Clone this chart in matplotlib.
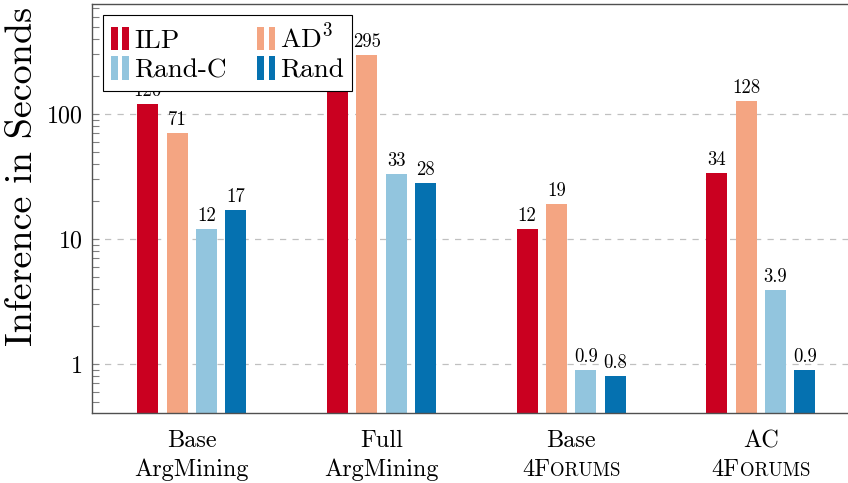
import numpy as np
import matplotlib
matplotlib.use("Agg")
import matplotlib.pyplot as plt
from matplotlib.patches import Rectangle
from matplotlib.legend_handler import HandlerBase
from matplotlib.ticker import LogLocator, NullFormatter, FixedLocator, FixedFormatter

plt.rcParams['font.family'] = 'cmr10'
plt.rcParams['mathtext.fontset'] = 'cm'
plt.rcParams['axes.formatter.use_mathtext'] = True

# inference times in seconds
groups_top = ["Base", "Full", "Base", "AC"]
groups_bottom = ["ArgMining", "ArgMining", "4Forums", "4Forums"]
series = ["ILP", "AD$^3$", "Rand-C", "Rand"]
ilp = [120, 180, 12, 34]
ad3 = [71, 295, 19, 128]
rand_c = [12, 33, 0.9, 3.9]
rand = [17, 28, 0.8, 0.9]
colors = ["#ca0020", "#f4a582", "#92c5de", "#0571b0"]
# the full ArgMining ILP label sits under the legend
hidden_label = (0, 1)

values = [ilp, ad3, rand_c, rand]

W, H = 848, 483
fig = plt.figure(figsize=(W / 100, H / 100), dpi=100)
ax_l, ax_r, ax_t, ax_b = 92, 860.6, 4, 413
ax = fig.add_axes([ax_l / W, (H - ax_b) / H, (ax_r - ax_l) / W, (ax_b - ax_t) / H])

x = np.arange(len(groups_top))
pitch = 0.1545
width = 0.111
bars = []
for i, (vals, c) in enumerate(zip(values, colors)):
    xs = x + (i - 1.5) * pitch
    bars.append(ax.bar(xs, vals, width=width, color=c, zorder=2, label=series[i]))
    for j, (xi, v) in enumerate(zip(xs, vals)):
        if (i, j) == hidden_label:
            continue
        ax.annotate(f"{v:g}", (xi, v), xytext=(0, 8), textcoords="offset pixels",
                    ha="center", va="baseline", fontsize=13.5, zorder=3)

ax.set_yscale("log")
ax.set_ylim(10 ** (-49 / 125), 10 ** (2 + 110 / 125))
ax.set_xlim(-0.526, 3.526)

ax.yaxis.set_major_locator(FixedLocator([1, 10, 100]))
ax.yaxis.set_major_formatter(FixedFormatter(["1", "10", "100"]))
ax.yaxis.set_minor_locator(LogLocator(base=10, subs=np.arange(2, 10)))
ax.yaxis.set_minor_formatter(NullFormatter())
ax.tick_params(axis="y", which="both", direction="in", length=5, width=0.8,
               color="#808080", labelsize=17.3, pad=6.7)
ax.grid(axis="y", which="major", linestyle=(0, (5, 5)), color="#c0c0c0", linewidth=0.9)
ax.set_axisbelow(True)

ax.set_xticks(x)
ax.set_xticklabels([])
ax.tick_params(axis="x", length=0)

for s in ["left", "top", "bottom"]:
    ax.spines[s].set_color("#505050")
    ax.spines[s].set_linewidth(1.0)
ax.spines["right"].set_visible(False)

# two-line category labels, second line of the forum groups in small caps
renderer = fig.canvas.get_renderer()
for xi, top, bottom in zip(x, groups_top, groups_bottom):
    ax.annotate(top, (xi, 0), xycoords=ax.get_xaxis_transform(), xytext=(0, -34),
                textcoords="offset pixels", ha="center", va="baseline", fontsize=17.5)
    if bottom == "4Forums":
        a = ax.annotate("4F", (xi, 0), xycoords=ax.get_xaxis_transform(), xytext=(0, -63),
                        textcoords="offset pixels", ha="left", va="baseline", fontsize=17.5)
        b = ax.annotate("ORUMS", (xi, 0), xycoords=ax.get_xaxis_transform(), xytext=(0, -63),
                        textcoords="offset pixels", ha="left", va="baseline", fontsize=13.6)
        w1 = a.get_window_extent(renderer).width
        w2 = b.get_window_extent(renderer).width
        a.xyann = (-(w1 + w2) / 2, -63)
        b.xyann = (-(w1 + w2) / 2 + w1, -63)
    else:
        ax.annotate(bottom, (xi, 0), xycoords=ax.get_xaxis_transform(), xytext=(0, -63),
                    textcoords="offset pixels", ha="center", va="baseline", fontsize=17.5)

fig.text(22 / W, 1 - 176 / H, "Inference in Seconds", rotation=90, ha="center",
         va="center", fontsize=27.5)


class TwoBarHandler(HandlerBase):
    def create_artists(self, legend, orig_handle, xdescent, ydescent, width, height,
                       fontsize, trans):
        c = orig_handle.get_facecolor()
        bw = width * 0.36
        h = height * 1.25
        y0 = -ydescent - (h - height) / 2
        r1 = Rectangle((-xdescent, y0), bw, h, facecolor=c, edgecolor="none", transform=trans)
        r2 = Rectangle((-xdescent + width - bw, y0), bw, h, facecolor=c, edgecolor="none",
                       transform=trans)
        return [r1, r2]


# legend filled row by row: ILP, AD3 / Rand-C, Rand
order = [0, 2, 1, 3]
patches = [bars[i].patches[0] for i in order]
labels = [series[i] for i in order]
leg = ax.legend(patches, labels, handler_map={Rectangle: TwoBarHandler()}, ncol=2,
                loc="upper left", bbox_to_anchor=(11 / (ax_r - ax_l), 1 - 11 / (ax_b - ax_t)),
                borderaxespad=0, fontsize=19.6, frameon=True, fancybox=False,
                edgecolor="black", framealpha=1, handlelength=0.65, handletextpad=0.2,
                columnspacing=1.12, labelspacing=0.2, borderpad=0.3)
leg.get_frame().set_linewidth(0.8)
leg.set_zorder(5)

fig.savefig("out.png", dpi=100)
